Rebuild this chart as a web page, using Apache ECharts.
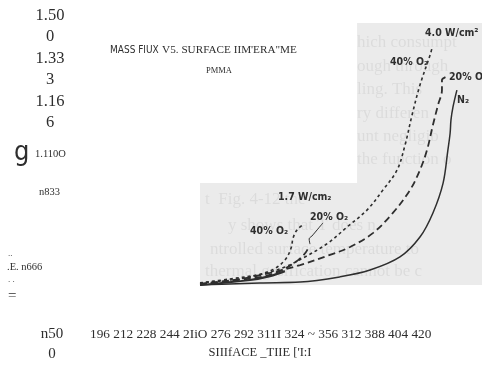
<!DOCTYPE html>
<html>
<head>
<meta charset="utf-8">
<script src="https://cdn.jsdelivr.net/npm/echarts@6/dist/echarts.min.js"></script>
<style>
  html, body { margin: 0; padding: 0; background: #ffffff; }
  #chart { width: 482px; height: 368px; }
</style>
</head>
<body>
<div id="chart"></div>
<script>
// Tick labels as printed along the left and bottom edges
const yTickLabels = ['1.50\n0', '1.33\n3', '1.16\n6', '1.110O', 'n833', '.E. n666', 'n50\n0'];
const xTickLabels = ['196', '212', '228', '244', '2IiO', '276', '292', '311I', '324', '~', '356', '312', '388', '404', '420'];
const titleMain = 'MASS FIUX';
const titleRest = 'V5. SURFACE IIM\'ERA"ME';
const subTitle = 'PMMA';
const xAxisName = 'SIIIfACE _TIIE [\'I:I';

// Curves, [x, y] in panel units (0-100 on both axes)
// 4.0 W/cm² heat flux
const hi40 = [[0, 0.8], [10.6, 2.3], [22.0, 4.2], [30.1, 6.9], [37.2, 10.7], [45.4, 16.0], [52.1, 22.1],
  [59.2, 28.6], [64.9, 36.3], [69.9, 43.9], [72.7, 53.4], [75.2, 64.9], [78.0, 76.3], [81.6, 87.8], [82.3, 90.5]];
const hi20 = [[0, 0.4], [14.2, 2.3], [24.8, 4.6], [35.5, 7.6], [46.1, 11.5], [53.2, 14.5], [61.3, 19.8],
  [68.4, 27.5], [74.5, 36.3], [78.0, 43.9], [80.5, 51.5], [82.6, 61.1], [84.4, 68.7], [85.8, 74.4], [85.8, 78.2], [87.2, 79.4]];
const hiN2 = [[0, 0], [21.3, 0.8], [35.5, 1.1], [49.6, 3.1], [60.3, 5.7], [70.9, 10.7], [78.0, 18.3],
  [82.6, 27.5], [86.2, 38.9], [87.9, 51.5], [88.7, 58.0], [89.0, 63.0], [89.7, 67.9], [91.1, 74.4]];
// 1.7 W/cm² heat flux
const lo40 = [[0, 0.8], [16.0, 2.7], [25.5, 5.7], [30.1, 9.5], [32.3, 14.1], [33.0, 17.9], [34.4, 21.0], [36.9, 23.3]];
const lo20 = [[0, 0.4], [22.0, 3.1], [29.1, 5.7], [34.8, 9.5], [37.6, 12.6], [38.7, 14.9]];
const lo20Leader = [[43.6, 23.7], [39.7, 18.7], [38.7, 17.6], [39.0, 15.6]];
const loN2 = [[0, 0], [17.7, 1.9], [24.8, 3.4], [30.1, 5.3]];

// Shaded figure panel (L shape)
const panelLower = [[0, 0], [100, 38.9]];
const panelUpper = [[55.7, 38.9], [100, 100]];

const serif = "'Liberation Serif', 'Times New Roman', serif";
const narrow = "'Liberation Sans Narrow', 'DejaVu Sans Condensed', sans-serif";
const ink = '#2e2e2e';
const faint = 'rgba(0,0,0,0.065)';

const chart = echarts.init(document.getElementById('chart'), null, { renderer: 'canvas' });

function txt(text, x, y, opts) {
  return {
    type: 'text', z: 10,
    style: Object.assign({ text: text, x: x, y: y, fill: ink, fontFamily: serif, fontSize: 12,
      align: 'left', verticalAlign: 'middle' }, opts || {})
  };
}

// Faint print showing through the shaded panel
const backPrint = [
  ['hich consumpt', 357, 43], ['ough through', 357, 67], ['ling. This', 357, 90],
  ['ry differen', 357, 114], ['unt negligib', 357, 137], ['the function o', 357, 160],
  ['t  Fig. 4-12 the', 205, 200], ['y shows that T does n', 228, 226],
  ['ntrolled surface temperature to', 210, 250], ['thermal gasification cannot be c', 205, 272]
].map(function (r) {
  return { type: 'text', z: 3, style: { text: r[0], x: r[1], y: r[2], fill: faint,
    fontFamily: serif, fontSize: 17, verticalAlign: 'middle',
    textShadowColor: 'rgba(0,0,0,0.05)', textShadowBlur: 2 } };
});

const graphics = backPrint.concat([
  // left tick labels
  txt(yTickLabels[0], 50, 26, { fontSize: 16.5, align: 'center', lineHeight: 21.5 }),
  txt(yTickLabels[1], 50, 69, { fontSize: 16.5, align: 'center', lineHeight: 21.5 }),
  txt(yTickLabels[2], 50, 112, { fontSize: 16.5, align: 'center', lineHeight: 21.5 }),
  txt('g', 14, 153, { fontFamily: narrow, fontSize: 27 }),
  txt(yTickLabels[3], 35, 154, { fontSize: 10.5 }),
  txt(yTickLabels[4], 39, 192, { fontSize: 10.5 }),
  txt('..', 8, 254, { fontSize: 9 }),
  txt(yTickLabels[5], 7, 267, { fontSize: 10.5 }),
  txt('. .', 8, 280, { fontSize: 9 }),
  txt('=', 8, 296, { fontSize: 15 }),
  txt(yTickLabels[6], 52, 344, { fontSize: 15, align: 'center', lineHeight: 20 }),
  // bottom tick labels and axis name
  txt(xTickLabels.join(' '), 90, 335, { fontSize: 13.3 }),
  txt(xAxisName, 260, 353, { fontSize: 12.5, align: 'center' }),
  // title: condensed sans lead-in followed by serif caps
  {
    type: 'text', z: 10,
    style: {
      text: '{a|' + titleMain + '} {b|' + titleRest + '}', x: 110, y: 50, verticalAlign: 'middle',
      rich: {
        a: { fontFamily: narrow, fontSize: 10, fill: ink, fontWeight: 'normal' },
        b: { fontFamily: serif, fontSize: 11.2, fill: ink }
      }
    }
  },
  txt(subTitle, 219, 71, { fontSize: 8.5, align: 'center' }),
  // curve annotations
  txt('4.0 W/cm²', 425, 33, { fontFamily: narrow, fontSize: 10.5, fontWeight: 'bold' }),
  txt('40% O₂', 390, 62, { fontFamily: narrow, fontSize: 10.5, fontWeight: 'bold' }),
  txt('20% O₂', 449, 77, { fontFamily: narrow, fontSize: 10.5, fontWeight: 'bold' }),
  txt('N₂', 457, 100, { fontFamily: narrow, fontSize: 10.5, fontWeight: 'bold' }),
  txt('1.7 W/cm₂', 278, 197, { fontFamily: narrow, fontSize: 10.5, fontWeight: 'bold' }),
  txt('20% O₂', 310, 217, { fontFamily: narrow, fontSize: 10.5, fontWeight: 'bold' }),
  txt('40% O₂', 250, 231, { fontFamily: narrow, fontSize: 10.5, fontWeight: 'bold' })
]);

function curve(data, dash, width) {
  return {
    type: 'line', data: data, symbol: 'none', smooth: 0.35, silent: true, z: 5,
    lineStyle: { color: ink, width: width, type: dash, cap: 'butt' }
  };
}

chart.setOption({
  animation: false,
  backgroundColor: '#ffffff',
  grid: { left: 200, top: 23, width: 282, height: 262 },
  xAxis: { type: 'value', min: 0, max: 100, show: false },
  yAxis: { type: 'value', min: 0, max: 100, show: false },
  graphic: graphics,
  series: [
    {
      type: 'line', data: [], z: 0, silent: true,
      markArea: {
        silent: true,
        itemStyle: { color: '#ebebeb', opacity: 1 },
        data: [
          [{ coord: panelLower[0] }, { coord: panelLower[1] }],
          [{ coord: panelUpper[0] }, { coord: panelUpper[1] }]
        ]
      }
    },
    curve(hi40, [3, 3], 1.6),
    curve(hi20, [7, 4], 1.8),
    curve(hiN2, 'solid', 1.5),
    curve(lo40, [3, 3], 1.6),
    curve(lo20, [7, 4], 1.8),
    curve(lo20Leader, 'solid', 1),
    curve(loN2, 'solid', 2.2)
  ]
});
</script>
</body>
</html>
